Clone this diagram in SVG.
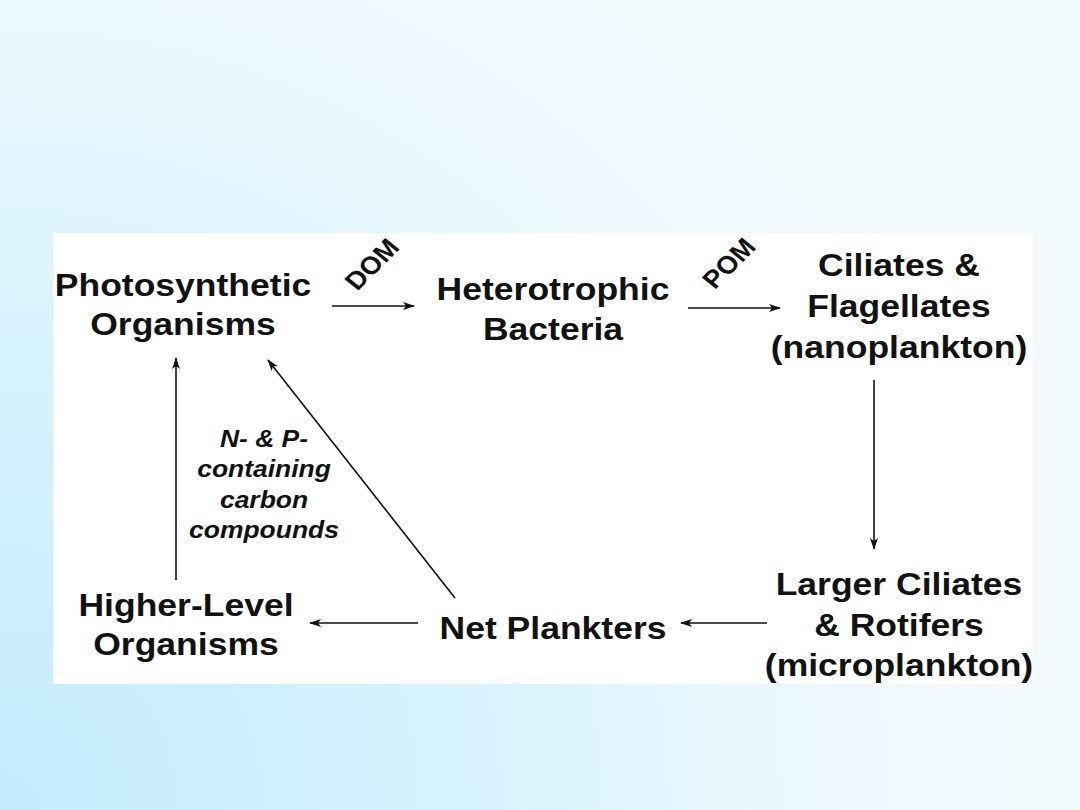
<svg xmlns="http://www.w3.org/2000/svg" width="1080" height="810" viewBox="0 0 1080 810">
  <defs>
    <radialGradient id="bg" cx="0" cy="810" r="1050" gradientUnits="userSpaceOnUse">
      <stop offset="0" stop-color="#c4ecfe"/>
      <stop offset="0.4" stop-color="#d4f2fe"/>
      <stop offset="0.75" stop-color="#ebf8fe"/>
      <stop offset="1" stop-color="#f3fafe"/>
    </radialGradient>
    <marker id="ah" viewBox="0 0 12 8" refX="11" refY="4" markerWidth="12" markerHeight="8" markerUnits="userSpaceOnUse" orient="auto">
      <path d="M0,0 L12,4 L0,8 L3,4 Z" fill="#111"/>
    </marker>
    <style>
      .lbl { font-family: "Liberation Sans", Arial, sans-serif; font-weight: bold; font-size: 32px; fill: #121212; text-anchor: middle; }
      .tag { font-family: "Liberation Sans", Arial, sans-serif; font-weight: bold; font-size: 25px; fill: #121212; text-anchor: middle; }
      .it { font-family: "Liberation Sans", Arial, sans-serif; font-weight: bold; font-style: italic; font-size: 23px; fill: #121212; text-anchor: middle; }
      .edge { stroke: #111; stroke-width: 1.6; fill: none; marker-end: url(#ah); }
    </style>
  </defs>
  <rect x="0" y="0" width="1080" height="810" fill="url(#bg)"/>
  <rect x="53" y="233" width="980" height="451" fill="#ffffff"/>

  <g id="connectors">
    <line class="edge" x1="332" y1="306" x2="414" y2="306"/>
    <line class="edge" x1="688" y1="308" x2="780" y2="308"/>
    <line class="edge" x1="874" y1="380" x2="874" y2="549"/>
    <line class="edge" x1="767" y1="623" x2="681" y2="623"/>
    <line class="edge" x1="418" y1="623" x2="310" y2="623"/>
    <line class="edge" x1="176" y1="580" x2="176" y2="358"/>
    <line class="edge" x1="455" y1="598" x2="268" y2="360"/>
    <g transform="translate(379 270) scale(1.11 1) rotate(-48)">
      <text class="tag" x="0" y="0">DOM</text>
    </g>
    <g transform="translate(736 269) scale(1.11 1) rotate(-48)">
      <text class="tag" x="0" y="0">POM</text>
    </g>
  </g>

  <g id="photosynthetic" transform="translate(183 0) scale(1.11 1)">
    <text class="lbl" x="0" y="296">Photosynthetic</text>
    <text class="lbl" x="0" y="335">Organisms</text>
  </g>
  <g id="heterotrophic" transform="translate(553 0) scale(1.11 1)">
    <text class="lbl" x="0" y="300">Heterotrophic</text>
    <text class="lbl" x="0" y="340">Bacteria</text>
  </g>
  <g id="nanoplankton" transform="translate(899 0) scale(1.11 1)">
    <text class="lbl" x="0" y="276">Ciliates &amp;</text>
    <text class="lbl" x="0" y="317">Flagellates</text>
    <text class="lbl" x="0" y="358">(nanoplankton)</text>
  </g>
  <g id="microplankton" transform="translate(899 0) scale(1.11 1)">
    <text class="lbl" x="0" y="595">Larger Ciliates</text>
    <text class="lbl" x="0" y="636">&amp; Rotifers</text>
    <text class="lbl" x="0" y="676">(microplankton)</text>
  </g>
  <g id="netplankters" transform="translate(553 0) scale(1.11 1)">
    <text class="lbl" x="0" y="639">Net Plankters</text>
  </g>
  <g id="higherlevel" transform="translate(186 0) scale(1.11 1)">
    <text class="lbl" x="0" y="616">Higher-Level</text>
    <text class="lbl" x="0" y="655">Organisms</text>
  </g>
  <g id="compounds-label" transform="translate(264 0) scale(1.15 1)">
    <text class="it" x="0" y="447">N- &amp; P-</text>
    <text class="it" x="0" y="477">containing</text>
    <text class="it" x="0" y="508">carbon</text>
    <text class="it" x="0" y="538">compounds</text>
  </g>
</svg>
